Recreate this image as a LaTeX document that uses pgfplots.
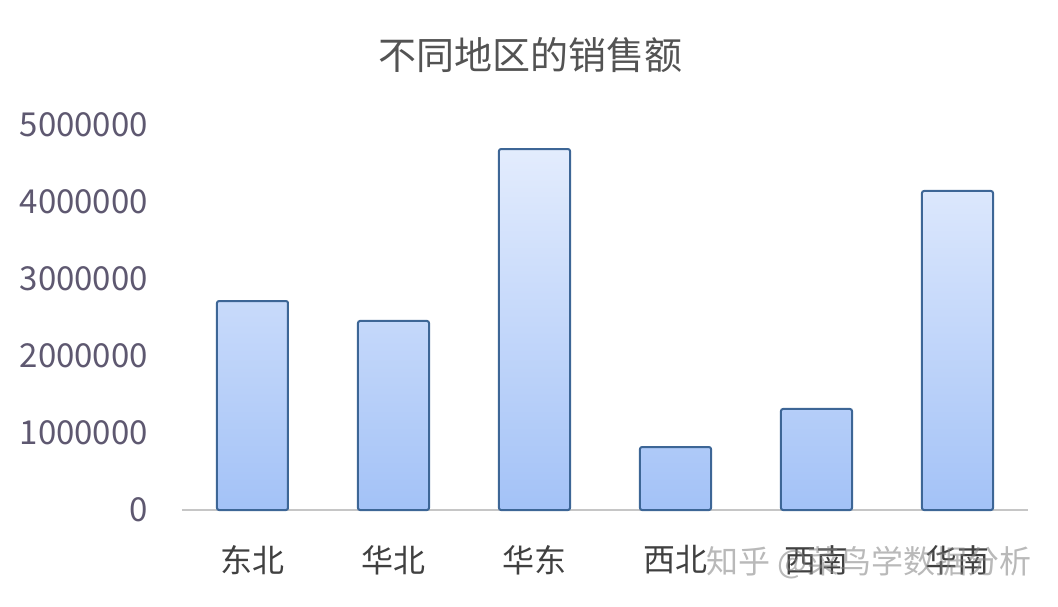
\documentclass[border=0pt]{standalone}
\usepackage{pgfplots}
\pgfplotsset{compat=1.18}
\usepackage{fontspec}
\setmainfont{Noto Sans CJK SC}
\definecolor{tickc}{HTML}{5E5870}
\definecolor{labc}{HTML}{404040}
\definecolor{barline}{HTML}{3D6696}
\definecolor{bartop}{HTML}{E3ECFD}
\definecolor{barbot}{HTML}{A3C2F7}
\begin{document}
\begin{tikzpicture}
\path[use as bounding box] (-91pt,-48pt) rectangle (438pt,255pt);
\begin{axis}[
  at={(0,0)}, anchor=south west,
  scale only axis,
  width=423pt, height=192.5pt,
  xmin=-0.5, xmax=5.5,
  ymin=0, ymax=5000000,
  scaled y ticks=false,
  ytick={0,1000000,2000000,3000000,4000000,5000000},
  yticklabels={0,1000000,2000000,3000000,4000000,5000000},
  xtick=data,
  xticklabels={东北,华北,华东,西北,西南,华南},
  axis x line*=bottom,
  axis y line*=left,
  y axis line style={draw=none},
  x axis line style={draw=gray!45, line width=0.6pt},
  xtick style={draw=none},
  ytick style={draw=none},
  /pgf/number format/assume math mode=true,
  yticklabel style={font=\fontsize{16.5}{18}\selectfont, text=tickc, anchor=east, xshift=-13.5pt},
  xticklabel style={font=\fontsize{16}{18}\selectfont, text=labc, yshift=-10pt},
  ybar, bar width=35.5pt,
  clip=false,
]
\addplot[draw=barline, line width=1pt, top color=bartop, bottom color=barbot, rounded corners=1pt]
  coordinates {(0,2714000) (1,2455000) (2,4688000) (3,818000) (4,1312000) (5,4143000)};
\end{axis}
\node[font=\fontsize{19}{22}\selectfont, text=labc!90] at (174pt,227.5pt) {不同地区的销售额};
\node[font=\fontsize{16}{18}\selectfont, text=gray, opacity=0.55] at (343.5pt,-26.5pt) {知乎 @菜鸟学数据分析};
\end{tikzpicture}
\end{document}
